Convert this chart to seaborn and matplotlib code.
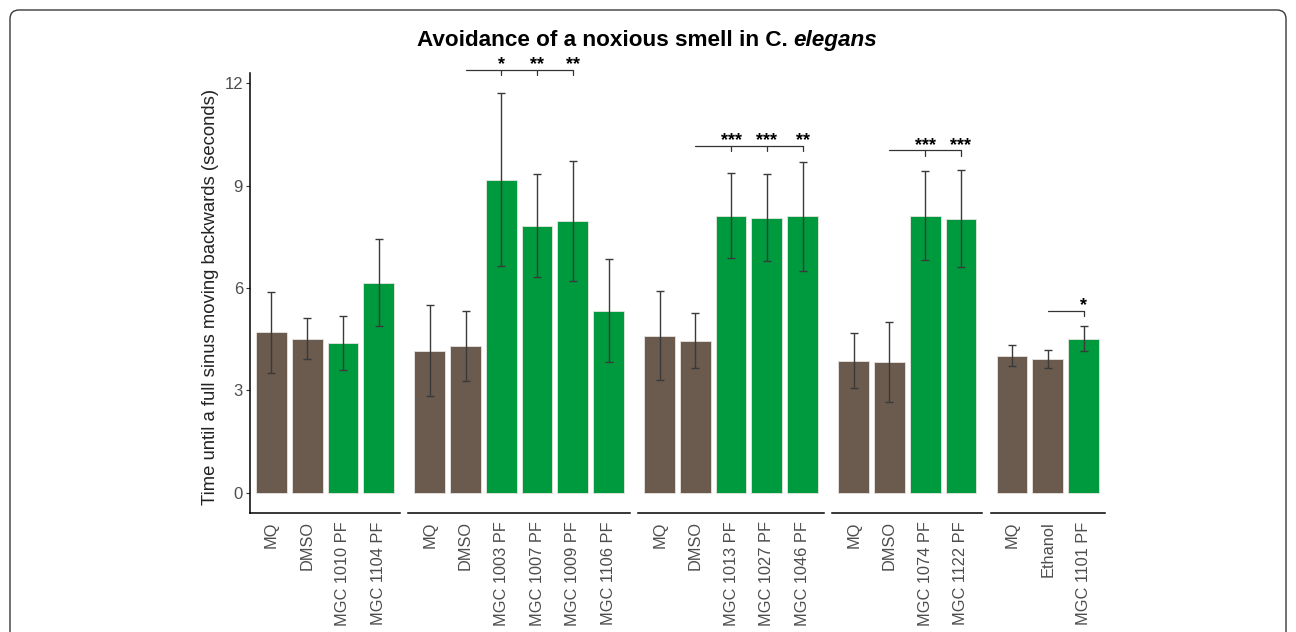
import matplotlib
matplotlib.use("Agg")
import matplotlib.pyplot as plt
import matplotlib.transforms as mtransforms
from matplotlib.patches import FancyBboxPatch
from matplotlib import font_manager
import seaborn as sns
import pandas as pd
import numpy as np

# ---------------- data ----------------
g1_labels = ["MQ", "DMSO", "MGC 1010 PF", "MGC 1104 PF"]
g1_means = [4.70, 4.52, 4.39, 6.16]
g1_sd = [1.18, 0.60, 0.79, 1.28]
g1_type = ["control", "control", "extract", "extract"]

g2_labels = ["MQ", "DMSO", "MGC 1003 PF", "MGC 1007 PF", "MGC 1009 PF", "MGC 1106 PF"]
g2_means = [4.16, 4.31, 9.18, 7.83, 7.96, 5.34]
g2_sd = [1.33, 1.03, 2.53, 1.51, 1.76, 1.51]
g2_type = ["control", "control", "extract", "extract", "extract", "extract"]

g3_labels = ["MQ", "DMSO", "MGC 1013 PF", "MGC 1027 PF", "MGC 1046 PF"]
g3_means = [4.60, 4.46, 8.12, 8.06, 8.10]
g3_sd = [1.30, 0.80, 1.24, 1.27, 1.59]
g3_type = ["control", "control", "extract", "extract", "extract"]

g4_labels = ["MQ", "DMSO", "MGC 1074 PF", "MGC 1122 PF"]
g4_means = [3.87, 3.84, 8.12, 8.03]
g4_sd = [0.80, 1.17, 1.31, 1.42]
g4_type = ["control", "control", "extract", "extract"]

g5_labels = ["MQ", "Ethanol", "MGC 1101 PF"]
g5_means = [4.02, 3.92, 4.52]
g5_sd = [0.30, 0.27, 0.36]
g5_type = ["control", "control", "extract"]

# significance: (bracket start index, [(index, stars)], bracket height)
g1_sig = None
g2_sig = (1, [(2, "*"), (3, "**"), (4, "**")], 12.39)
g3_sig = (1, [(2, "***"), (3, "***"), (4, "**")], 10.17)
g4_sig = (1, [(2, "***"), (3, "***")], 10.03)
g5_sig = (1, [(2, "*")], 5.34)

y_ticks = [0, 3, 6, 9, 12]
title_main = "Avoidance of a noxious smell in C."
title_italic = "elegans"
y_label = "Time until a full sinus moving backwards (seconds)"

groups = [
    (g1_labels, g1_means, g1_sd, g1_type, g1_sig),
    (g2_labels, g2_means, g2_sd, g2_type, g2_sig),
    (g3_labels, g3_means, g3_sd, g3_type, g3_sig),
    (g4_labels, g4_means, g4_sd, g4_type, g4_sig),
    (g5_labels, g5_means, g5_sd, g5_type, g5_sig),
]

# ---------------- style ----------------
BROWN = "#6a5b4e"
GREEN = "#009a3e"
ERR = "#3a3a3a"
TICKC = "#4d4d4d"

sns.set_style("ticks")
avail = {f.name for f in font_manager.fontManager.ttflist}
base_font = "Liberation Sans" if "Liberation Sans" in avail else "DejaVu Sans"
title_font = "Liberation Sans Narrow" if "Liberation Sans Narrow" in avail else base_font
plt.rcParams["font.family"] = [base_font, "DejaVu Sans"]

W, H, DPI = 1296, 632, 100
fig = plt.figure(figsize=(W / DPI, H / DPI), dpi=DPI)

ratios = [len(g[0]) + 0.2 for g in groups]
left, right = 250 / W, 1105 / W
bottom, top = 1 - 513 / H, 1 - 73 / H
gs = fig.add_gridspec(1, len(groups), width_ratios=ratios, left=left, right=right,
                      bottom=bottom, top=top, wspace=0.05)

axes = []
for i, (labels, means, sd, types, sig) in enumerate(groups):
    ax = fig.add_subplot(gs[0, i], sharey=axes[0] if axes else None)
    axes.append(ax)
    df = pd.DataFrame({"label": labels, "mean": means, "type": types})
    sns.barplot(data=df, x="label", y="mean", hue="type", order=labels,
                hue_order=["control", "extract"],
                palette={"control": BROWN, "extract": GREEN}, saturation=1,
                dodge=False, width=0.86, errorbar=None, legend=False,
                edgecolor="#e8e4e0", linewidth=0.6, ax=ax)
    xs = np.arange(len(labels))
    ax.errorbar(xs, means, yerr=sd, fmt="none", ecolor=ERR, elinewidth=1.0,
                capsize=3.0, capthick=1.0, zorder=5)
    n = len(labels)
    ax.set_xlim(-0.6, n - 0.4)
    ax.set_ylim(-0.59, 12.3)
    ax.set_xlabel("")
    ax.set_ylabel("")
    for s in ["top", "right"]:
        ax.spines[s].set_visible(False)
    ax.spines["bottom"].set_linewidth(1.1)
    ax.spines["bottom"].set_color("black")
    ax.tick_params(axis="x", length=0, pad=6, labelsize=11.8, labelcolor=TICKC)
    ax.set_xticks(xs)
    ax.set_xticklabels(labels, rotation=90, ha="center", va="top")
    if i == 0:
        ax.spines["left"].set_linewidth(1.1)
        ax.spines["left"].set_color("black")
        ax.set_yticks(y_ticks)
        ax.set_yticklabels([str(t) for t in y_ticks])
        ax.tick_params(axis="y", length=3, width=0.8, color="#333333",
                       labelsize=12, labelcolor=TICKC, pad=2)
        ax.set_ylabel(y_label, fontsize=13.3, color="#222222")
        ax.yaxis.set_label_coords(-31 / 151, 0.49)
    else:
        ax.spines["left"].set_visible(False)
        ax.tick_params(axis="y", left=False, labelleft=False)

    if sig is not None:
        start, marks, yb = sig
        end = max(m[0] for m in marks)
        ax.plot([start, end], [yb, yb], color="#333333", lw=0.9, clip_on=False)
        for idx, stars in marks:
            ax.plot([idx, idx], [yb, yb - 0.15], color="#333333", lw=0.9, clip_on=False)
            ax.annotate(stars, xy=(idx, yb), xytext=(0, 0.5), textcoords="offset points",
                        ha="center", va="baseline", fontsize=13, fontweight="bold",
                        color="black", annotation_clip=False)

# ---------------- title ----------------
t1 = fig.text(0.5, 1 - 46 / H, title_main, fontsize=16.2, fontweight="bold",
              family=[title_font, "DejaVu Sans"], ha="left", va="baseline", color="black")
t2 = fig.text(0.5, 1 - 46 / H, title_italic, fontsize=16.2, fontweight="bold",
              style="italic", family=[title_font, "DejaVu Sans"], ha="left",
              va="baseline", color="black")
fig.canvas.draw()
r = fig.canvas.get_renderer()
w1 = t1.get_window_extent(r).width
w2 = t2.get_window_extent(r).width
gap = 5
x0 = 647 - (w1 + gap + w2) / 2
t1.set_x(x0 / W)
t2.set_x((x0 + w1 + gap) / W)

# ---------------- frame ----------------
frame = FancyBboxPatch((10, -30), 1276, 652, boxstyle="round,pad=0,rounding_size=9",
                       transform=mtransforms.IdentityTransform(),
                       facecolor="none", edgecolor="#3a3a3a", linewidth=1.0)
fig.add_artist(frame)

fig.savefig("out.png", dpi=DPI)
